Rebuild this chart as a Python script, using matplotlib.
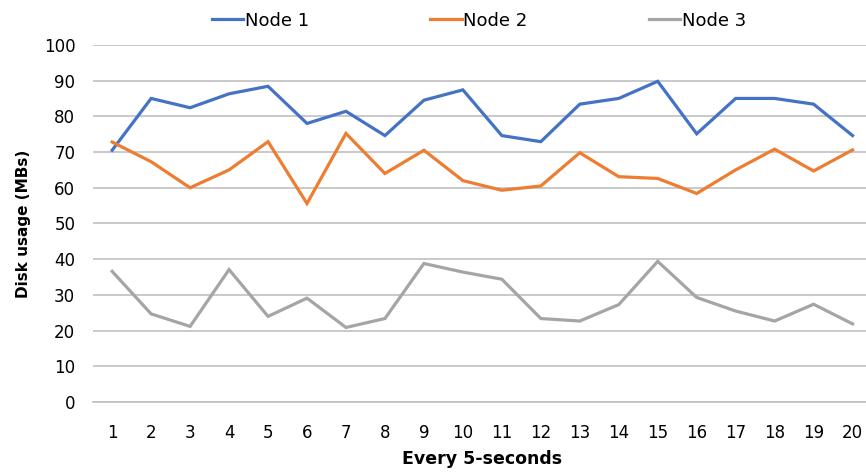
import matplotlib.pyplot as plt

# disk usage per node, sampled every 5 seconds
samples = list(range(1, 21))
node1 = [70.5, 85.0, 82.4, 86.3, 88.4, 78.0, 81.4, 74.6, 84.5, 87.4,
         74.6, 72.9, 83.4, 85.0, 89.8, 75.1, 85.0, 85.0, 83.4, 74.6]
node2 = [72.8, 67.3, 60.0, 65.0, 72.9, 55.6, 75.2, 64.0, 70.5, 62.0,
         59.3, 60.5, 69.8, 63.1, 62.6, 58.4, 65.0, 70.8, 64.7, 70.6]
node3 = [36.6, 24.7, 21.2, 37.1, 24.0, 29.1, 20.9, 23.4, 38.8, 36.4,
         34.4, 23.4, 22.7, 27.3, 39.4, 29.3, 25.5, 22.7, 27.4, 21.9]
series = {"Node 1": (node1, "#4472C4"),
          "Node 2": (node2, "#ED7D31"),
          "Node 3": (node3, "#A5A5A5")}

fig = plt.figure(figsize=(8.66, 4.72), dpi=100)
ax = fig.add_axes([0.107, 0.148, 0.9, 0.757])

for name, (vals, col) in series.items():
    ax.plot(samples, vals, color=col, linewidth=2.3, label=name,
            solid_joinstyle="miter")

ax.set_xlim(0.5, 20.5)
ax.set_ylim(0, 100)
ax.set_yticks(range(0, 101, 10))
ax.set_xticks(samples)
ax.grid(axis="y", color="#c0c0c0", linewidth=1.2)
ax.set_axisbelow(True)
for s in ["top", "right", "left"]:
    ax.spines[s].set_visible(False)
ax.spines["bottom"].set_color("#c0c0c0")
ax.spines["bottom"].set_linewidth(1.2)
ax.tick_params(length=0, labelsize=12)
ax.tick_params(axis="x", pad=15.5)
ax.tick_params(axis="y", pad=12.5)

ax.set_ylabel("Disk usage (MBs)", fontsize=11, fontweight="bold", labelpad=9)
ax.set_xlabel("Every 5-seconds", fontsize=12.5, fontweight="bold", labelpad=6)

fig.legend(loc="upper center", bbox_to_anchor=(0.553, 1.01), ncol=3,
           frameon=False, fontsize=13,
           handlelength=1.75, handletextpad=0.1, columnspacing=6.7)

fig.savefig("out.png", dpi=100)
